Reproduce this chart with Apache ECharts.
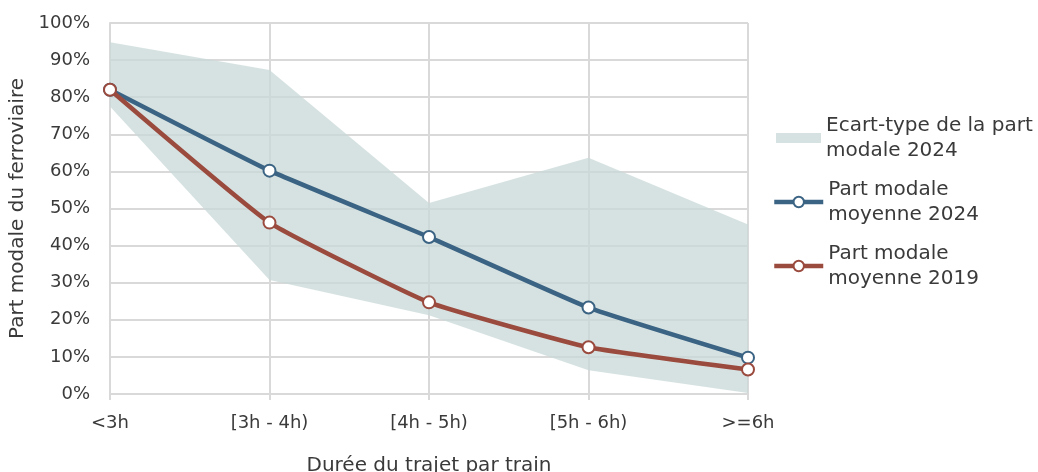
<!DOCTYPE html>
<html>
<head>
<meta charset="utf-8">
<script src="https://cdn.jsdelivr.net/npm/echarts@6/dist/echarts.min.js"></script>
<style>
html,body{margin:0;padding:0;background:#fff;}
#chart{width:1038px;height:472px;}
</style>
</head>
<body>
<div id="chart"></div>
<script>
const categories = ['<3h', '[3h - 4h)', '[4h - 5h)', '[5h - 6h)', '>=6h'];
const bandLower = [77.5, 30.7, 21.2, 6.4, 0.3];
const bandUpper = [94.8, 87.3, 51.5, 63.7, 45.7];
const mean2024 = [82, 60.2, 42.3, 23.3, 9.8];
const mean2019 = [82, 46.2, 24.7, 12.6, 6.6];
const yTicks = [0, 10, 20, 30, 40, 50, 60, 70, 80, 90, 100];

const nameBand = 'Ecart-type de la part\nmodale 2024';
const name2024 = 'Part modale\nmoyenne 2024';
const name2019 = 'Part modale\nmoyenne 2019';

const FONT = 'DejaVu Sans';
const TXT = '#3a3a3a';
const BLUE = '#3b6383';
const RED = '#9b4a3e';

const bandDiff = bandUpper.map((u, i) => +(u - bandLower[i]).toFixed(2));

const chart = echarts.init(document.getElementById('chart'), null, {renderer: 'canvas'});

function legendCfg(name, top, left, icon, w, h, itemStyle, lineStyle) {
  const d = {name: name};
  if (icon) d.icon = icon;
  if (itemStyle) d.itemStyle = itemStyle;
  if (lineStyle) d.lineStyle = lineStyle;
  return {
    data: [d],
    orient: 'vertical',
    left: left,
    top: top,
    padding: 0,
    itemWidth: w,
    itemHeight: h,
    itemGap: 0,
    selectedMode: false,
    textStyle: {
      fontFamily: FONT, fontSize: 20, color: TXT,
      lineHeight: 25, padding: [25, 0, 0, 0]
    }
  };
}

chart.setOption({
  animation: false,
  backgroundColor: '#ffffff',
  grid: {left: 110, right: 290, top: 23, bottom: 78, containLabel: false, outerBoundsMode: 'none'},
  legend: [
    legendCfg(nameBand, 138 - 37.5, 776, 'rect', 45, 10, {color: '#d6e2e1'}),
    legendCfg(name2024, 202 - 37.5, 772, null, 49, 13,
      {color: '#ffffff', borderColor: BLUE, borderWidth: 2}, {color: BLUE, width: 4.5}),
    legendCfg(name2019, 266 - 37.5, 772, null, 49, 13,
      {color: '#ffffff', borderColor: RED, borderWidth: 2}, {color: RED, width: 4.5})
  ],
  xAxis: {
    type: 'category',
    data: categories,
    boundaryGap: false,
    name: 'Durée du trajet par train',
    nameLocation: 'middle',
    nameGap: 62,
    nameTextStyle: {fontFamily: FONT, fontSize: 20, color: TXT},
    axisLine: {show: true, lineStyle: {color: '#d9d9d9', width: 2}},
    axisTick: {show: true, alignWithLabel: true, length: 6, lineStyle: {color: '#d9d9d9', width: 2}},
    splitLine: {show: true, lineStyle: {color: '#d9d9d9', width: 2}},
    axisLabel: {fontFamily: FONT, fontSize: 18, color: TXT, margin: 20}
  },
  yAxis: {
    type: 'value',
    min: yTicks[0],
    max: yTicks[yTicks.length - 1],
    interval: 10,
    name: 'Part modale du ferroviaire',
    nameLocation: 'middle',
    nameGap: 82,
    nameTextStyle: {fontFamily: FONT, fontSize: 20, color: TXT},
    axisLine: {show: true, lineStyle: {color: '#d9d9d9', width: 2}},
    axisTick: {show: false},
    splitLine: {show: true, lineStyle: {color: '#d9d9d9', width: 2}},
    axisLabel: {fontFamily: FONT, fontSize: 18, color: TXT, margin: 20, formatter: '{value}%'}
  },
  series: [
    {
      name: 'bandLower',
      type: 'line',
      stack: 'band',
      data: bandLower,
      symbol: 'none',
      lineStyle: {opacity: 0},
      silent: true,
      z: 1
    },
    {
      name: nameBand,
      type: 'line',
      stack: 'band',
      data: bandDiff,
      symbol: 'none',
      lineStyle: {opacity: 0},
      itemStyle: {color: '#d6e2e1'},
      areaStyle: {color: 'rgba(201,217,216,0.76)', opacity: 1},
      silent: true,
      z: 1
    },
    {
      name: name2024,
      type: 'line',
      data: mean2024,
      smooth: 0.12,
      symbol: 'circle',
      symbolSize: 12,
      lineStyle: {color: BLUE, width: 4.5},
      itemStyle: {color: '#ffffff', borderColor: BLUE, borderWidth: 2},
      z: 3
    },
    {
      name: name2019,
      type: 'line',
      data: mean2019,
      smooth: 0.12,
      symbol: 'circle',
      symbolSize: 12,
      lineStyle: {color: RED, width: 4.5},
      itemStyle: {color: '#ffffff', borderColor: RED, borderWidth: 2},
      z: 4
    }
  ]
});
</script>
</body>
</html>
